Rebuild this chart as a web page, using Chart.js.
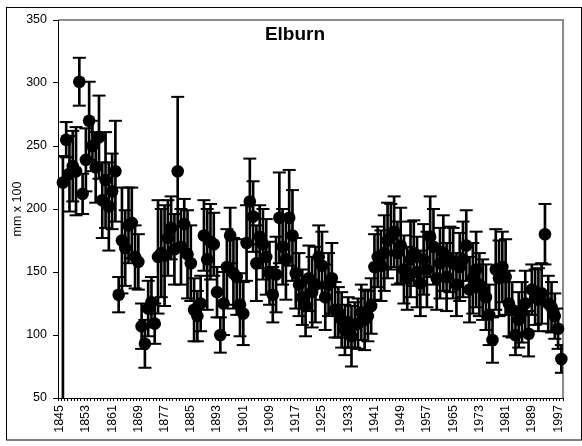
<!DOCTYPE html>
<html>
<head>
<meta charset="utf-8">
<script src="https://cdn.jsdelivr.net/npm/chart.js@4.4.0/dist/chart.umd.min.js"></script>
<style>
html, body { margin: 0; padding: 0; background: #fff; }
#wrap { width: 582px; height: 446px; }
</style>
</head>
<body>
<div id="wrap"><canvas id="elburn-chart" width="582" height="446"></canvas></div>
<script>
// Elburn series, 1845 - 1998 (mm x 100), with error bars
var firstYear = 1845;
var lastYear = 1998;
var years = [];
for (var yr = firstYear; yr <= lastYear; yr++) years.push(String(yr));

var values = [
    null, 221, 255, 228, 234, 230, 301, 212, 239, 270,   // 1845
    250, 233, 257, 207, 223, 202, 214, 230, 132, 175,    // 1855
    169, 187, 189, 162, 158, 107, 93, 121, 126, 109,     // 1865
    162, 165, 163, 177, 185, 168, 230, 170, 188, 164,    // 1875
    157, 120, 115, 125, 179, 160, 174, 172, 134, 100,    // 1885
    125, 154, 179, 149, 146, 124, 117, 173, 206, 194,    // 1895
    157, 178, 172, 162, 149, 132, 148, 193, 170, 160,    // 1905
    193, 179, 149, 140, 130, 123, 145, 134, 140, 162,    // 1915
    155, 130, 140, 145, 120, 118, 112, 104, 110, 99,     // 1925
    108, 109, 118, 112, 115, 123, 154, 162, 155, 165,    // 1935
    175, 178, 182, 165, 171, 152, 145, 160, 165, 150,    // 1945
    141, 160, 152, 178, 170, 145, 157, 165, 146, 160,    // 1955
    157, 140, 154, 160, 171, 136, 145, 152, 140, 136,    // 1965
    130, 116, 96, 152, 145, 154, 146, 125, 120, 100,     // 1975
    112, 118, 125, 101, 136, 130, 128, 133, 180, 125,    // 1985
    122, 115, 105, 81                                    // 1995
];

var errors = [
    null, 21, 14, 30, 28, 35, 19, 16, 25, 31,
    20, 28, 33, 30, 38, 35, 30, 40, 14, 42,
    30, 30, 28, 25, 22, 18, 19, 22, 20, 16,
    45, 35, 40, 30, 25, 28, 59, 30, 20, 35,
    30, 25, 20, 22, 28, 40, 30, 25, 20, 14,
    25, 30, 22, 28, 30, 25, 25, 30, 34, 28,
    30, 25, 28, 30, 25, 22, 30, 36, 30, 32,
    38, 36, 28, 25, 22, 24, 26, 28, 30, 25,
    27, 26, 25, 28, 22, 20, 22, 20, 20, 24,
    18, 20, 22, 24, 20, 22, 26, 24, 28, 30,
    30, 26, 28, 25, 30, 27, 25, 30, 26, 28,
    26, 28, 30, 32, 30, 25, 28, 30, 27, 26,
    28, 25, 27, 30, 28, 26, 28, 30, 25, 24,
    26, 24, 18, 32, 30, 28, 30, 26, 22, 16,
    22, 24, 26, 18, 20, 22, 25, 24, 24, 22,
    20, 18, 16, 11
];

// the lower bar of the first point runs off the bottom of the axis
var lowerErrors = errors.slice();
lowerErrors[1] = 221;

var barData = values.map(function (v, i) { return v == null ? null : [v - lowerErrors[i], v + errors[i]]; });
var capHigh = values.map(function (v, i) { return v == null ? null : v + errors[i]; });
var capLow = values.map(function (v, i) { return v == null ? null : v - lowerErrors[i]; });

var FONT = '"Liberation Sans", Arial, sans-serif';
Chart.defaults.font.family = FONT;
Chart.defaults.color = '#000';

// frame, plot border and title
var framePlugin = {
    id: 'frame',
    beforeDraw: function (chart) {
        var ctx = chart.ctx, a = chart.chartArea;
        ctx.save();
        ctx.fillStyle = '#fff';
        ctx.fillRect(0, 0, chart.width, chart.height);
        ctx.strokeStyle = '#000';
        ctx.lineWidth = 1;
        ctx.strokeRect(6.5, 7.5, 575, 432.5);
        ctx.strokeStyle = '#8c8c8c';
        ctx.lineWidth = 2;
        ctx.beginPath();
        ctx.moveTo(a.left, a.top);
        ctx.lineTo(a.right, a.top);
        ctx.lineTo(a.right, a.bottom);
        ctx.stroke();
        ctx.restore();
    },
    afterDraw: function (chart) {
        var ctx = chart.ctx;
        ctx.save();
        ctx.font = 'bold 19px ' + FONT;
        ctx.fillStyle = '#000';
        ctx.textAlign = 'center';
        ctx.textBaseline = 'middle';
        ctx.fillText('Elburn', 295, 35);
        ctx.restore();
    }
};

var ctx = document.getElementById('elburn-chart');

var config = {
    data: {
        labels: years,
        datasets: [{
            type: 'line',
            label: 'Elburn',
            data: values,
            showLine: false,
            pointRadius: 6.3,
            pointHoverRadius: 6.3,
            pointBackgroundColor: '#000',
            pointBorderWidth: 0
        }, {
            type: 'line',
            data: capHigh,
            showLine: false,
            pointStyle: 'line',
            pointRadius: 6.5,
            pointBorderWidth: 2,
            pointBorderColor: '#000',
            clip: 0
        }, {
            type: 'line',
            data: capLow,
            showLine: false,
            pointStyle: 'line',
            pointRadius: 6.5,
            pointBorderWidth: 2,
            pointBorderColor: '#000',
            clip: 0
        }, {
            type: 'bar',
            data: barData,
            grouped: false,
            barThickness: 2,
            backgroundColor: '#000',
            borderWidth: 0,
            clip: 0
        }]
    },
    options: {
        responsive: false,
        animation: false,
        events: [],
        layout: { padding: { left: 6, right: 19, top: 20, bottom: 6 } },
        plugins: {
            legend: { display: false },
            tooltip: { enabled: false }
        },
        scales: {
            x: {
                type: 'category',
                offset: true,
                grid: { drawOnChartArea: false, offset: true, tickLength: 3, color: '#000' },
                border: { color: '#000', width: 1 },
                ticks: {
                    autoSkip: false,
                    minRotation: 90,
                    maxRotation: 90,
                    padding: 4,
                    font: { size: 12.5 },
                    color: '#000',
                    callback: function (val, i) {
                        return (Number(years[i]) - firstYear) % 8 === 0 ? years[i] : '';
                    }
                },
                afterFit: function (s) { s.height = 42; }
            },
            y: {
                type: 'linear',
                min: 50,
                max: 350,
                grid: { drawOnChartArea: false, tickLength: 5, color: '#000' },
                border: { color: '#000', width: 1 },
                ticks: { stepSize: 50, padding: 6, font: { size: 12.5 }, color: '#000' },
                title: {
                    display: true,
                    text: 'mm x 100',
                    font: { size: 12.5 },
                    color: '#000',
                    padding: { top: 4, bottom: 0 }
                },
                afterFit: function (s) { s.width = 52; }
            }
        }
    },
    plugins: [framePlugin]
};

var elburnChart = new Chart(ctx, config);
</script>
</body>
</html>
